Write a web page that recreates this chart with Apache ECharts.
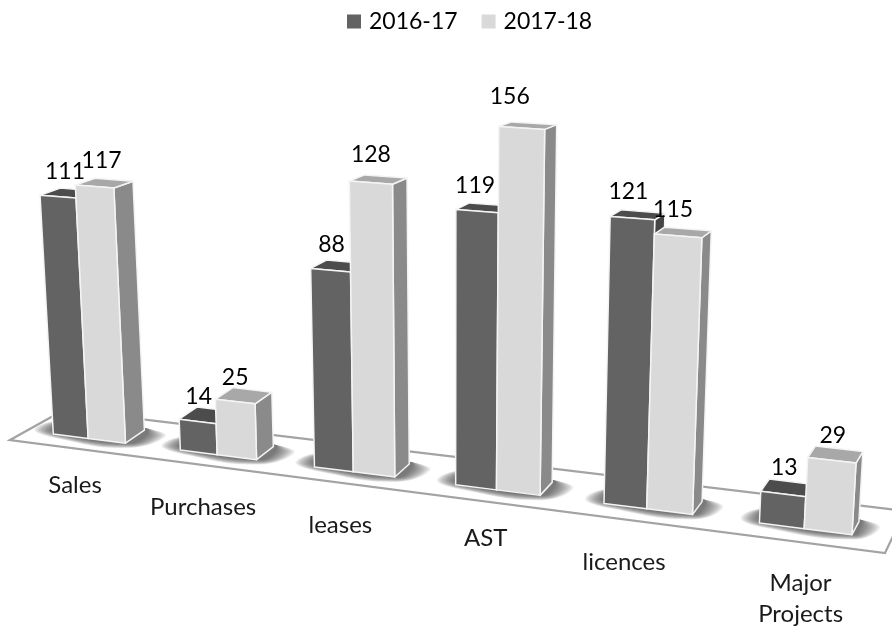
<!DOCTYPE html>
<html><head><meta charset="utf-8">
<script src="https://cdn.jsdelivr.net/npm/echarts@6/dist/echarts.min.js"></script>
<style>html,body{margin:0;padding:0;background:#fff}#c{width:892px;height:628px}</style>
</head><body><div id="c"></div>
<script>
const categories = ['Sales', 'Purchases', 'leases', 'AST', 'licences', 'Major\nProjects'];
const values1617 = [111, 14, 88, 119, 121, 13];
const values1718 = [117, 25, 128, 156, 115, 29];
const seriesNames = ['2016-17', '2017-18'];
const labelNudge = [[-15, -5], [-16, 1], [-15, 2], [-13, -3], [-25, 2], [-6, 3]];
const darkLabelNudge = [[7, 2], [1, 2], [1, 1], [-2, 1], [-4, 0], [1, 1]];
const lightLabelNudge = [[7, 1], [0, 3], [0, -1], [-12, -4], [-5, 1], [1, 2]];
const FONT = 'Lato, "Open Sans", sans-serif';
const floorEdge = [[10, 440], [64, 410], [905, 511], [885, 553]];

function warp(px) { const q = (px - 53) / 123.45; return px + 3.55 * q * q; }
function groundY(X) { return 434 + 0.126 * (X - 53); }
function frontPoint(px, axisH) {
  const X = warp(px), s = axisH * (1.065 + 0.0002 * X);
  return [X + (X - 450) * 0.00014 * s, groundY(X) - s];
}
function depth(pt, v) {
  return [pt[0] + 21 - 0.0165 * pt[0], pt[1] - 13 + 0.053 * v];
}
function barEdges(cx, band) {
  const left = cx - 0.295 * band, mid = left + 0.28 * band, right = mid + 0.295 * band;
  return [left, mid, right];
}

function barRenderer(side, colors, nudges) {
  return function (params, api) {
    const i = api.value(0), v = api.value(1);
    const c = api.coord([i, 0]), t = api.coord([i, v]);
    const e = barEdges(c[0], api.size([1, 0])[0]), h = c[1] - t[1];
    const x0 = e[side], x1 = e[side + 1];
    const BL = frontPoint(x0, 0), BR = frontPoint(x1, 0), TL = frontPoint(x0, h), TR = frontPoint(x1, h);
    const edge = { stroke: '#f4f4f4', lineWidth: 1.5, lineJoin: 'round' };
    const poly = (pts, fill) => ({ type: 'polygon', shape: { points: pts }, style: Object.assign({ fill }, edge) });
    return { type: 'group', children: [
      poly([BR, TR, depth(TR, v), depth(BR, 0)], colors.side),
      poly([TL, TR, depth(TR, v), depth(TL, v)], colors.top),
      poly([BL, BR, TR, TL], colors.front),
      { type: 'text', z2: 50, style: {
        x: (TL[0] + TR[0]) / 2 + nudges[i][0], y: (TL[1] + TR[1]) / 2 - 27 + nudges[i][1], text: String(v),
        fill: '#000', font: '23px ' + FONT, align: 'center', verticalAlign: 'middle' } }
    ] };
  };
}

const chart = echarts.init(document.getElementById('c'), null, { renderer: 'canvas' });
chart.setOption({
  animation: false,
  backgroundColor: '#fff',
  legend: {
    data: seriesNames, left: 342, top: 5, itemWidth: 14, itemHeight: 14, itemGap: 24, icon: 'rect',
    textStyle: { fontFamily: FONT, fontSize: 23, color: '#000', padding: [0, 0, 0, 3] }
  },
  grid: { left: 28, top: 30, width: 740.7, height: 400 },
  xAxis: { type: 'category', data: categories, show: false },
  yAxis: { type: 'value', min: 0, max: 200, show: false },
  series: [
    { type: 'custom', name: 'floor', silent: true, z: 1, clip: false, data: [[0, 0]],
      renderItem: () => ({ type: 'polygon', shape: { points: floorEdge },
        style: { fill: '#fff', stroke: '#a3a3a3', lineWidth: 2.2, lineJoin: 'miter' } }) },
    { type: 'custom', name: 'shadow', silent: true, z: 2, clip: false,
      data: categories.map((_, i) => [i, 0]),
      renderItem: (params, api) => {
        const c = api.coord([api.value(0), 0]);
        const e = barEdges(c[0], api.size([1, 0])[0]);
        const BL = frontPoint(e[0], 0), BR = frontPoint(e[2], 0), BK = depth(BR, 0), LK = depth(BL, 0);
        const children = [];
        for (let k = 24; k >= 1; k -= 1) {
          const vy = k * 0.3;
          children.push({ type: 'polygon', shape: { smooth: 0.45, points: [
            [BL[0] - k * 0.8, BL[1] - 5], [BL[0] + 6, BL[1] + vy * 0.7], [BR[0] + 2, BR[1] + vy * 0.7],
            [BK[0] + k * 0.9, BK[1] + 6], [BK[0] + 2, BK[1] - 2], [LK[0], LK[1] - vy * 0.3]] },
            style: { fill: 'rgba(40,40,40,0.04)' } });
        }
        return { type: 'group', children };
      } },
    { type: 'custom', name: seriesNames[0], z: 3, clip: false, itemStyle: { color: '#636363' },
      encode: { x: 0, y: 1 }, data: values1617.map((v, i) => [i, v]),
      renderItem: barRenderer(0, { front: '#636363', top: '#4c4c4c', side: '#454545' }, darkLabelNudge) },
    { type: 'custom', name: seriesNames[1], z: 4, clip: false, itemStyle: { color: '#d9d9d9' },
      encode: { x: 0, y: 1 }, data: values1718.map((v, i) => [i, v]),
      renderItem: barRenderer(1, { front: '#d9d9d9', top: '#a8a8a8', side: '#8a8a8a' }, lightLabelNudge) },
    { type: 'custom', name: 'categoryLabels', silent: true, z: 5, clip: false,
      data: categories.map((_, i) => [i, 0]),
      renderItem: (params, api) => {
        const i = api.value(0), c = api.coord([i, 0]);
        const p = frontPoint(c[0], 0), n = labelNudge[i];
        return { type: 'text', style: { x: p[0] + n[0], y: p[1] + 36 + n[1], text: categories[i],
          fill: '#1a1a1a', font: '24px ' + FONT, lineHeight: 31, align: 'center', verticalAlign: 'top' } };
      } }
  ]
});
</script></body></html>
